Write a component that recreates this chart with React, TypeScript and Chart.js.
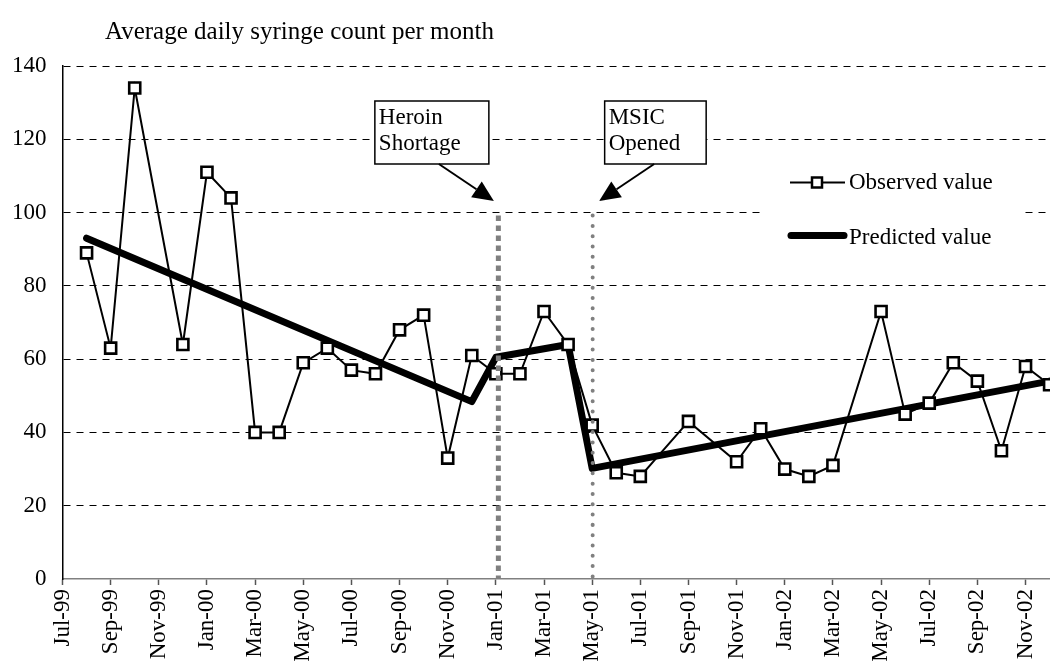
import React, { useEffect, useRef } from 'react';
import { Chart, registerables } from 'chart.js';

Chart.register(...registerables);

const months = [
  'Jul-99', 'Aug-99', 'Sep-99', 'Oct-99', 'Nov-99', 'Dec-99',
  'Jan-00', 'Feb-00', 'Mar-00', 'Apr-00', 'May-00', 'Jun-00',
  'Jul-00', 'Aug-00', 'Sep-00', 'Oct-00', 'Nov-00', 'Dec-00',
  'Jan-01', 'Feb-01', 'Mar-01', 'Apr-01', 'May-01', 'Jun-01',
  'Jul-01', 'Aug-01', 'Sep-01', 'Oct-01', 'Nov-01', 'Dec-01',
  'Jan-02', 'Feb-02', 'Mar-02', 'Apr-02', 'May-02', 'Jun-02',
  'Jul-02', 'Aug-02', 'Sep-02', 'Oct-02', 'Nov-02', 'Dec-02',
];

const observed: (number | null)[] = [
  null, 89, 63, 134, null, 64,
  111, 104, 40, 40, 59, 63,
  57, 56, 68, 72, 33, 61,
  56, 56, 73, 64, 42, 29,
  28, null, 43, null, 32, 41,
  30, 28, 31, null, 73, 45,
  48, 59, 54, 35, 58, 53,
];

const predicted: (number | null)[] = [
  null, 93, null, null, null, null,
  null, null, null, null, null, null,
  null, null, null, null, null, 48.4,
  60.5, null, null, 64, 30.2, null,
  null, null, null, null, null, null,
  null, null, null, null, null, null,
  null, null, null, null, null, 54,
];

const seriesNames = ['Observed value', 'Predicted value'];
const chartTitle = 'Average daily syringe count per month';
const yTicks = [0, 20, 40, 60, 80, 100, 120, 140];
const eventMonths = ['Jan-01', 'May-01'];
const eventLabels = [['Heroin', 'Shortage'], ['MSIC', 'Opened']];
const eventLineTop = 100;

const FONT = "'Liberation Serif', 'DejaVu Serif', serif";

function drawArrow(ctx: CanvasRenderingContext2D, x1: number, y1: number, x2: number, y2: number) {
  const ang = Math.atan2(y2 - y1, x2 - x1);
  const len = 21;
  const half = 9.5;
  const bx = x2 - len * Math.cos(ang);
  const by = y2 - len * Math.sin(ang);
  ctx.save();
  ctx.strokeStyle = '#000';
  ctx.fillStyle = '#000';
  ctx.lineWidth = 2;
  ctx.beginPath();
  ctx.moveTo(x1, y1);
  ctx.lineTo(bx, by);
  ctx.stroke();
  ctx.beginPath();
  ctx.moveTo(x2, y2);
  ctx.lineTo(bx + half * Math.sin(ang), by - half * Math.cos(ang));
  ctx.lineTo(bx - half * Math.sin(ang), by + half * Math.cos(ang));
  ctx.closePath();
  ctx.fill();
  ctx.restore();
}

const overlayPlugin = {
  id: 'overlay',
  afterDatasetsDraw(chart: any) {
    const ctx: CanvasRenderingContext2D = chart.ctx;
    const xs = chart.scales.x;
    const ys = chart.scales.y;
    const top = ys.getPixelForValue(eventLineTop);
    const bottom = ys.getPixelForValue(0);

    eventMonths.forEach((m, i) => {
      const x = xs.getPixelForValue(months.indexOf(m));
      ctx.save();
      ctx.strokeStyle = '#808080';
      if (i === 0) {
        ctx.lineWidth = 5;
        ctx.lineCap = 'butt';
        ctx.setLineDash([5.5, 4.5]);
      } else {
        ctx.lineWidth = 4;
        ctx.lineCap = 'round';
        ctx.setLineDash([0.01, 10.3]);
      }
      const lx = x + (i === 0 ? 2.5 : 0.5);
      ctx.beginPath();
      ctx.moveTo(lx, top + 3);
      ctx.lineTo(lx, bottom);
      ctx.stroke();
      ctx.restore();

      // annotation box
      const bx = i === 0 ? x - 121 : x + 12.5;
      const bw = i === 0 ? 114 : 101.5;
      const byTop = 101;
      const byBot = 164;
      ctx.save();
      ctx.fillStyle = '#fff';
      ctx.fillRect(bx, byTop, bw, byBot - byTop);
      ctx.strokeStyle = '#000';
      ctx.lineWidth = 1.5;
      ctx.strokeRect(bx, byTop, bw, byBot - byTop);
      ctx.fillStyle = '#000';
      ctx.font = `23px ${FONT}`;
      ctx.textAlign = 'left';
      ctx.textBaseline = 'alphabetic';
      eventLabels[i].forEach((t, k) => {
        ctx.fillText(t, bx + 4, 124 + k * 26);
      });
      ctx.restore();

      if (i === 0) drawArrow(ctx, x - 57, byBot, x - 2, 201);
      else drawArrow(ctx, x + 62, byBot, x + 7, 201);
    });

    // legend
    ctx.save();
    ctx.fillStyle = '#fff';
    ctx.fillRect(763, 168, 257, 90);
    ctx.strokeStyle = '#000';
    ctx.lineWidth = 2;
    ctx.beginPath();
    ctx.moveTo(790, 182.5);
    ctx.lineTo(845, 182.5);
    ctx.stroke();
    ctx.fillStyle = '#fff';
    ctx.lineWidth = 2.5;
    ctx.fillRect(812, 177.5, 10, 10);
    ctx.strokeRect(812, 177.5, 10, 10);
    ctx.lineWidth = 7;
    ctx.lineCap = 'round';
    ctx.beginPath();
    ctx.moveTo(791, 235.5);
    ctx.lineTo(844, 235.5);
    ctx.stroke();
    ctx.fillStyle = '#000';
    ctx.font = `23px ${FONT}`;
    ctx.textAlign = 'left';
    ctx.textBaseline = 'middle';
    ctx.fillText(seriesNames[0], 849, 183);
    ctx.fillText(seriesNames[1], 849, 238);
    ctx.restore();

    // title
    ctx.save();
    ctx.fillStyle = '#000';
    ctx.font = `25px ${FONT}`;
    ctx.textAlign = 'left';
    ctx.textBaseline = 'middle';
    ctx.fillText(chartTitle, 105, 32);
    ctx.restore();
  },
};

export default function App() {
  const canvasRef = useRef<HTMLCanvasElement | null>(null);

  useEffect(() => {
    if (!canvasRef.current) return;
    const chart = new Chart(canvasRef.current, {
      type: 'line',
      data: {
        labels: months,
        datasets: [
          {
            label: seriesNames[0],
            data: observed,
            borderColor: '#000',
            borderWidth: 2,
            pointStyle: 'rect',
            pointRadius: 7.8,
            pointBorderWidth: 2.6,
            pointBackgroundColor: '#fff',
            pointBorderColor: '#000',
            spanGaps: true,
            tension: 0,
          },
          {
            label: seriesNames[1],
            data: predicted,
            borderColor: '#000',
            borderWidth: 7,
            borderJoinStyle: 'round',
            borderCapStyle: 'round',
            pointRadius: 0,
            spanGaps: true,
            tension: 0,
          },
        ],
      },
      options: {
        responsive: false,
        animation: false,
        events: [],
        layout: { padding: { left: 0, right: 6, top: 66, bottom: 0 } },
        plugins: {
          legend: { display: false },
          tooltip: { enabled: false },
          title: { display: false },
        },
        scales: {
          x: {
            type: 'category',
            offset: false,
            afterBuildTicks: (scale: any) => {
              scale.ticks = scale.ticks.filter((t: any) => t.value % 2 === 0);
            },
            afterFit: (scale: any) => {
              scale.height = 92;
            },
            ticks: {
              autoSkip: false,
              minRotation: 90,
              maxRotation: 90,
              padding: 4,
              color: '#000',
              font: { family: FONT, size: 23 },
            },
            grid: {
              drawOnChartArea: false,
              drawTicks: true,
              tickLength: 6,
              tickColor: '#555',
              tickWidth: 1.5,
              color: '#808080',
            },
            border: { color: '#808080', width: 1.5 },
          },
          y: {
            min: 0,
            max: 140,
            afterBuildTicks: (scale: any) => {
              scale.ticks = yTicks.map((v) => ({ value: v }));
            },
            afterFit: (scale: any) => {
              scale.width = 62.5;
            },
            ticks: {
              padding: 16,
              color: '#000',
              font: { family: FONT, size: 23 },
            },
            grid: {
              drawTicks: false,
              color: (c: any) => (c.tick && c.tick.value === 0 ? 'rgba(0,0,0,0)' : '#000'),
              lineWidth: 1,
            },
            border: { color: '#000', width: 1.5, dash: [7, 6] },
          },
        },
      },
      plugins: [overlayPlugin],
    });
    return () => chart.destroy();
  }, []);

  return (
    <div style={{ position: 'fixed', left: 0, top: 0, width: 1060, height: 671, background: '#fff' }}>
      <canvas ref={canvasRef} width={1060} height={671} style={{ display: 'block' }} />
    </div>
  );
}
